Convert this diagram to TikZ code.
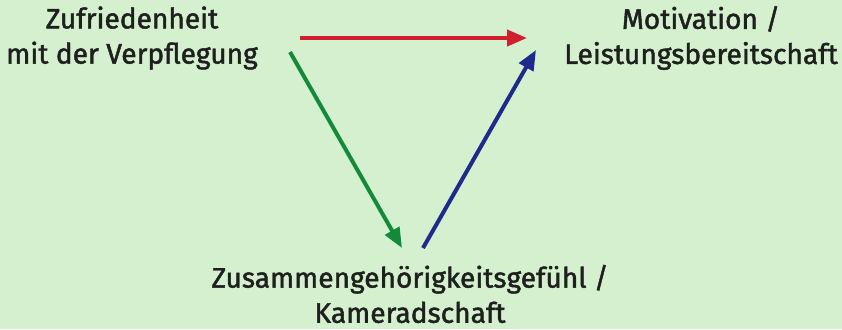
\documentclass[tikz,border=0pt]{standalone}
\usepackage{fontspec}
\setmainfont{Fira Sans}[UprightFeatures={FakeBold=1.6}]
\usepackage{tikz}
\usetikzlibrary{arrows.meta,positioning,calc}

\definecolor{bggreen}{RGB}{213,240,207}
\definecolor{txtgray}{RGB}{30,32,30}
\definecolor{arrred}{RGB}{208,32,46}
\definecolor{arrgreen}{RGB}{18,138,58}
\definecolor{arrblue}{RGB}{30,42,140}

\begin{document}
\begin{tikzpicture}[
    x=0.03cm, y=-0.03cm,
    lbl/.style={align=center, inner sep=0pt, text=txtgray, font=\fontsize{24}{30}\selectfont},
    farrow/.style={-{Triangle[length=0.6cm, width=0.48cm]}, line width=0.12cm}
  ]
    % Background
    \fill[bggreen] (0,0) rectangle (842,329);
    \useasboundingbox (0,0) rectangle (842,329);

    % Labels
    \node[lbl] (zuf) at (132,38) {Zufriedenheit\\ mit der Verpflegung};
    \node[lbl] (mot) at (701,38) {Motivation /\\ Leistungsbereitschaft};
    \node[lbl] (kam) at (410,294) {Zusammengehörigkeitsgefühl /\\ Kameradschaft};

    % Arrows
    \draw[farrow, arrred] ($(zuf.center)+(168,0)$) -- ($(mot.center)+(-174,0)$);
    \draw[farrow, arrgreen] ($(zuf.center)+(158,14)$) -- ($(kam.center)+(-8,-46)$);
    \draw[farrow, arrblue] ($(kam.center)+(13,-46)$) -- ($(mot.center)+(-165,12)$);
\end{tikzpicture}
\end{document}
